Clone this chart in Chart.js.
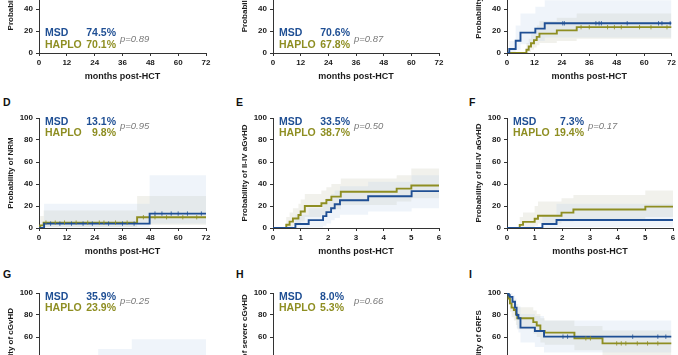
<!DOCTYPE html>
<html><head><meta charset="utf-8">
<script src="https://cdn.jsdelivr.net/npm/chart.js@4"></script>
<style>
html,body{margin:0;padding:0;background:#fff;}
body{width:678px;height:355px;overflow:hidden;position:relative;font-family:"Liberation Sans",Arial,sans-serif;}
canvas{position:absolute;}
.lab{position:absolute;font-weight:bold;font-size:10.5px;line-height:11px;color:#111;}
</style></head><body>
<div class="lab" style="left:3px;top:97px">D</div>
<div class="lab" style="left:236px;top:97px">E</div>
<div class="lab" style="left:469px;top:97px">F</div>
<div class="lab" style="left:3px;top:269px">G</div>
<div class="lab" style="left:236px;top:269px">H</div>
<div class="lab" style="left:469px;top:269px">I</div>
<script>
// ---------- DATA ----------
const xMaxes = [72, 72, 72, 72, 6, 6, 72, 72, 72];
const xSteps = [12, 12, 12, 12, 1, 1, 12, 12, 12];
const yTicks = [0, 20, 40, 60, 80, 100];
const xTitle = 'months post-HCT';
const yTitles = ['Probability of OS', 'Probability of LFS', 'Probability of relapse',
  'Probability of NRM', 'Probability of II-IV aGvHD', 'Probability of III-IV aGvHD',
  'Probability of cGvHD', 'Probability of severe cGvHD', 'Probability of GRFS'];
const groupNames = ['MSD', 'HAPLO'];
const msdPct = ['74.5%', '70.6%', null, '13.1%', '33.5%', '7.3%', '35.9%', '8.0%', null];
const haploPct = ['70.1%', '67.8%', null, '9.8%', '38.7%', '19.4%', '23.9%', '5.3%', null];
const pVals = ['p=0.89', 'p=0.87', null, 'p=0.95', 'p=0.50', 'p=0.17', 'p=0.25', 'p=0.66', null];

// A: OS
const osMsdT = [0, 3, 6, 9, 14, 20, 30, 72];
const osMsdV = [100, 96, 92, 88, 84, 80, 74.5, 74.5];
const osMsdLo = [100, 88, 82, 77, 72, 67, 60, 60];
const osMsdHi = [100, 100, 98, 96, 93, 90, 86, 86];
const osHapT = [0, 2, 5, 8, 12, 18, 26, 72];
const osHapV = [100, 95, 90, 85, 80, 75, 70.1, 70.1];
const osHapLo = [100, 87, 80, 74, 68, 63, 57, 57];
const osHapHi = [100, 100, 97, 94, 90, 86, 82, 82];
// B: LFS
const lfsMsdT = [0, 2, 4, 7, 10, 15, 22, 72];
const lfsMsdV = [100, 96, 92, 87, 82, 77, 70.6, 70.6];
const lfsMsdLo = [100, 88, 82, 76, 70, 64, 57, 57];
const lfsMsdHi = [100, 100, 98, 95, 92, 88, 83, 83];
const lfsHapT = [0, 2, 4, 6, 9, 13, 19, 28, 72];
const lfsHapV = [100, 96, 92, 88, 84, 79, 74, 67.8, 67.8];
const lfsHapLo = [100, 88, 82, 77, 72, 66, 61, 54, 54];
const lfsHapHi = [100, 100, 98, 95, 92, 88, 84, 79, 79];
// C: relapse
const relMsdT = [0, 1, 3.8, 5.9, 12.4, 16.5, 72];
const relMsdV = [0, 3.7, 11.1, 18.5, 22.2, 27, 27];
const relMsdLo = [0, 0, 3, 8, 11, 14, 14];
const relMsdHi = [0, 11, 25, 36, 42, 48, 48];
const relMsdCens = [24.4, 25.1, 38.9, 40.3, 41.3, 52.6, 66.3, 67.8, 71.4];
const relHapT = [0, 8.5, 9.5, 10.5, 11.8, 13, 14.2, 21.8, 30.5, 72];
const relHapV = [0, 2.9, 5.9, 8.8, 11.7, 14.7, 17.6, 20.6, 23.5, 23.5];
const relHapLo = [0, 0, 1, 3, 5, 7, 9, 11, 13, 13];
const relHapHi = [0, 9, 13, 17, 21, 25, 29, 32, 36, 36];
const relHapCens = [32.4, 36, 44, 47, 50, 58, 63, 70];
// D: NRM
const nrmMsdT = [0, 2.2, 47.7, 72];
const nrmMsdV = [0, 4.0, 13.1, 13.1];
const nrmMsdLo = [0, 0.5, 4, 4];
const nrmMsdHi = [0, 22, 48, 48];
const nrmMsdCens = [5, 9, 14, 19, 23, 30, 36, 41, 50, 53, 57, 60, 64, 70];
const nrmHapT = [0, 0.5, 2, 42.3, 72];
const nrmHapV = [0, 2.4, 4.9, 9.8, 9.8];
const nrmHapLo = [0, 0.3, 1, 3, 3];
const nrmHapHi = [0, 11, 16, 29, 29];
const nrmHapCens = [3, 7, 11, 16, 21, 26, 28, 33, 38, 45, 50, 55, 62, 68];
// E: II-IV aGvHD
const agvMsdT = [0, 0.81, 1.29, 1.81, 1.93, 2.1, 2.23, 2.42, 3.44, 5.01, 6];
const agvMsdV = [0, 3.6, 7.2, 10.8, 14.4, 18.0, 21.6, 25.2, 28.8, 33.5, 33.5];
const agvMsdLo = [0, 0, 0.5, 2, 4, 7, 9, 12, 15, 18, 18];
const agvMsdHi = [0, 12, 18, 23, 27, 31, 34, 38, 42, 48, 48];
const agvHapT = [0, 0.48, 0.6, 0.72, 0.92, 1.0, 1.15, 1.75, 1.93, 2.11, 2.45, 4.47, 5.0, 6];
const agvHapV = [0, 2.9, 5.8, 8.7, 11.8, 15.0, 20.0, 22.5, 25.5, 28.5, 33.0, 35.8, 38.7, 38.7];
const agvHapLo = [0, 0, 0.5, 2, 4, 6, 10, 12, 14, 17, 21, 24, 27, 27];
const agvHapHi = [0, 10, 14, 18, 22, 26, 31, 34, 37, 40, 45, 48, 54, 54];
// F: III-IV aGvHD
const sagMsdT = [0, 1.28, 1.79, 6];
const sagMsdV = [0, 3.6, 7.3, 7.3];
const sagMsdLo = [0, 0, 1, 1];
const sagMsdHi = [0, 12, 22, 22];
const sagHapT = [0, 0.46, 0.58, 1.0, 1.12, 1.97, 2.4, 5.0, 6];
const sagHapV = [0, 2.8, 5.6, 8.4, 11.2, 14.0, 16.8, 19.4, 19.4];
const sagHapLo = [0, 0, 0.5, 2, 4, 6, 8, 10, 10];
const sagHapHi = [0, 10, 14, 20, 24, 27, 30, 34, 34];
// G: cGvHD
const cgvMsdT = [0, 4, 6, 9, 12, 18, 25.5, 40, 72];
const cgvMsdV = [0, 4, 8, 12, 16, 20, 28, 35.9, 35.9];
const cgvMsdLo = [0, 0, 1, 3, 6, 8, 14, 19, 19];
const cgvMsdHi = [0, 12, 18, 24, 30, 36, 49, 58, 58];
const cgvHapT = [0, 5, 8, 11, 16, 24, 72];
const cgvHapV = [0, 4, 8, 12, 16, 23.9, 23.9];
const cgvHapLo = [0, 0, 1, 3, 6, 11, 11];
const cgvHapHi = [0, 12, 18, 23, 28, 38, 38];
// H: severe cGvHD
const scgMsdT = [0, 6, 14, 72];
const scgMsdV = [0, 4, 8, 8];
const scgMsdLo = [0, 0, 1, 1];
const scgMsdHi = [0, 14, 20, 20];
const scgHapT = [0, 9, 20, 72];
const scgHapV = [0, 2.6, 5.3, 5.3];
const scgHapLo = [0, 0, 0.5, 0.5];
const scgHapHi = [0, 10, 14, 14];
// I: GRFS
const grfMsdT = [0, 0.7, 1.2, 2.4, 3.5, 4.2, 5.0, 5.9, 12.2, 16.2, 72];
const grfMsdV = [100, 98, 96.5, 92, 86.7, 80, 77, 68.5, 65.5, 60.3, 60.3];
const grfMsdLo = [100, 93, 89, 83, 76, 68, 64, 55, 51, 46, 46];
const grfMsdHi = [100, 100, 100, 98, 95, 90, 88, 81, 79, 75, 75];
const grfMsdCens = [24.5, 26.5, 55, 66, 69.5];
const grfHapT = [0, 0.7, 1.3, 2.0, 3.0, 3.9, 4.5, 11.5, 13, 14.6, 16.5, 29.5, 41.8, 72];
const grfHapV = [100, 95, 90.6, 86.7, 84.5, 80.6, 77, 73.5, 70.5, 65.5, 64, 58.8, 54.2, 54.2];
const grfHapLo = [100, 89, 83, 78, 75, 71, 67, 63, 60, 55, 53, 48, 43, 43];
const grfHapHi = [100, 100, 97, 94, 93, 90, 87, 84, 81, 77, 75, 70, 66, 66];
const grfHapCens = [34.5, 36.5, 48, 50, 52, 57, 61.5, 66];

// ---------- STYLE / LAYOUT ----------
const MSD_COLOR = '#1f4f94';
const HAP_COLOR = '#8e8e22';
const MSD_BAND = 'rgba(175,198,232,0.2)';
const HAP_BAND = 'rgba(185,185,160,0.2)';
const FONT = '"Liberation Sans", Arial, Helvetica, sans-serif';
const colLeft = [0, 234, 468];
const colWidth = [225, 216, 210];
const rowPlotTop = [-57, 118, 293];
const annotRowY = [[18, 7.5, 12.5], [96.5, 86, 92.5], [96.5, 86, 92.5]];
const annotValRight = [77, 77, 77, 77, 77, 77, 77, 71, 77];

const panelSeries = [
  [[osMsdT, osMsdV, osMsdLo, osMsdHi, []], [osHapT, osHapV, osHapLo, osHapHi, []]],
  [[lfsMsdT, lfsMsdV, lfsMsdLo, lfsMsdHi, []], [lfsHapT, lfsHapV, lfsHapLo, lfsHapHi, []]],
  [[relMsdT, relMsdV, relMsdLo, relMsdHi, relMsdCens], [relHapT, relHapV, relHapLo, relHapHi, relHapCens]],
  [[nrmMsdT, nrmMsdV, nrmMsdLo, nrmMsdHi, nrmMsdCens], [nrmHapT, nrmHapV, nrmHapLo, nrmHapHi, nrmHapCens]],
  [[agvMsdT, agvMsdV, agvMsdLo, agvMsdHi, []], [agvHapT, agvHapV, agvHapLo, agvHapHi, []]],
  [[sagMsdT, sagMsdV, sagMsdLo, sagMsdHi, []], [sagHapT, sagHapV, sagHapLo, sagHapHi, []]],
  [[cgvMsdT, cgvMsdV, cgvMsdLo, cgvMsdHi, []], [cgvHapT, cgvHapV, cgvHapLo, cgvHapHi, []]],
  [[scgMsdT, scgMsdV, scgMsdLo, scgMsdHi, []], [scgHapT, scgHapV, scgHapLo, scgHapHi, []]],
  [[grfMsdT, grfMsdV, grfMsdLo, grfMsdHi, grfMsdCens], [grfHapT, grfHapV, grfHapLo, grfHapHi, grfHapCens]]
];

function pts(T, Y) { return T.map((t, i) => ({ x: t, y: Y[i] })); }
function stepVal(T, V, t) { let v = V[0]; for (let i = 0; i < T.length; i++) { if (T[i] <= t) v = V[i]; } return v; }

const annotPlugin = {
  id: 'annot',
  afterDraw(chart, args, o) {
    if (!o || !o.msd) return;
    const { ctx, chartArea: a, scales: { y } } = chart;
    ctx.save();
    ctx.textBaseline = 'middle';
    ctx.font = 'bold 10.5px ' + FONT;
    const y1 = y.getPixelForValue(o.ys[0]), y2 = y.getPixelForValue(o.ys[1]), y3 = y.getPixelForValue(o.ys[2]);
    ctx.fillStyle = MSD_COLOR;
    ctx.textAlign = 'left'; ctx.fillText(groupNames[0], a.left + 6, y1);
    ctx.textAlign = 'right'; ctx.fillText(o.msd, a.left + o.vr, y1);
    ctx.fillStyle = HAP_COLOR;
    ctx.textAlign = 'left'; ctx.fillText(groupNames[1], a.left + 6, y2);
    ctx.textAlign = 'right'; ctx.fillText(o.haplo, a.left + o.vr, y2);
    ctx.font = 'italic 9.5px ' + FONT;
    ctx.fillStyle = '#7a7a7a';
    ctx.textAlign = 'left'; ctx.fillText(o.p, a.left + 81, y3);
    ctx.restore();
  }
};

for (let i = 0; i < 9; i++) {
  const r = Math.floor(i / 3), c = i % 3;
  const cv = document.createElement('canvas');
  const W = colWidth[c], H = 149;
  cv.width = W; cv.height = H;
  cv.style.width = W + 'px'; cv.style.height = H + 'px';
  cv.style.left = colLeft[c] + 'px';
  cv.style.top = (rowPlotTop[r] - 10) + 'px';
  document.body.appendChild(cv);
  const [m, h] = panelSeries[i];
  const lineDs = (s, col) => ({ data: pts(s[0], s[1]), borderColor: col, borderWidth: 1.9, stepped: 'before', pointRadius: 0, fill: false, order: 1 });
  const censDs = (s, col) => ({ data: s[4].map(t => ({ x: t, y: stepVal(s[0], s[1], t) })), showLine: false, pointStyle: 'line', rotation: 90, pointRadius: 2.2, pointBorderWidth: 0.8, pointBorderColor: col, borderColor: col, order: 0 });
  const hiDs = (s, bc, ord) => ({ data: pts(s[0], s[3]), borderColor: 'transparent', borderWidth: 0, backgroundColor: bc, stepped: 'before', pointRadius: 0, fill: '+1', order: ord });
  const loDs = (s, ord) => ({ data: pts(s[0], s[2]), borderColor: 'transparent', borderWidth: 0, stepped: 'before', pointRadius: 0, fill: false, order: ord });
  const datasets = [
    lineDs(m, MSD_COLOR), lineDs(h, HAP_COLOR),
    censDs(m, MSD_COLOR), censDs(h, HAP_COLOR),
    hiDs(m, MSD_BAND, 5), loDs(m, 5),
    hiDs(h, HAP_BAND, 6), loDs(h, 6)
  ];
  const tickFont = { family: FONT, size: 8, weight: 'bold' };
  new Chart(cv, {
    type: 'line',
    data: { datasets },
    options: {
      responsive: false, animation: false, devicePixelRatio: 1,
      layout: { padding: { top: 10, right: W + colLeft[c] - [206, 439, 673][c], left: 0, bottom: 0 } },
      plugins: {
        legend: { display: false }, tooltip: { enabled: false },
        annot: msdPct[i] ? { msd: msdPct[i], haplo: haploPct[i], p: pVals[i], ys: annotRowY[r], vr: annotValRight[i] } : {}
      },
      scales: {
        x: {
          type: 'linear', min: 0, max: xMaxes[i],
          ticks: { stepSize: xSteps[i], autoSkip: false, maxRotation: 0, font: tickFont, color: '#1a1a1a', padding: 2 },
          grid: { display: true, drawOnChartArea: false, drawTicks: true, tickLength: 3, color: '#333', lineWidth: 1 },
          border: { display: true, color: '#333', width: 1 },
          title: { display: true, text: xTitle, font: { family: FONT, size: 9, weight: 'bold' }, color: '#1a1a1a', padding: { top: 0, bottom: 0 } },
          afterFit: s => { s.height = 29; }
        },
        y: {
          type: 'linear', min: 0, max: 100,
          afterBuildTicks: s => { s.ticks = yTicks.map(v => ({ value: v })); },
          ticks: { font: tickFont, color: '#1a1a1a', padding: 3 },
          grid: { display: true, drawOnChartArea: false, drawTicks: true, tickLength: 3, color: '#333', lineWidth: 1 },
          border: { display: true, color: '#333', width: 1 },
          title: { display: true, text: yTitles[i], font: { family: FONT, size: 8, weight: 'bold' }, color: '#1a1a1a', padding: { top: 6, bottom: 0 } },
          afterFit: s => { s.width = 39; }
        }
      }
    },
    plugins: [annotPlugin]
  });
}
</script>
</body></html>
